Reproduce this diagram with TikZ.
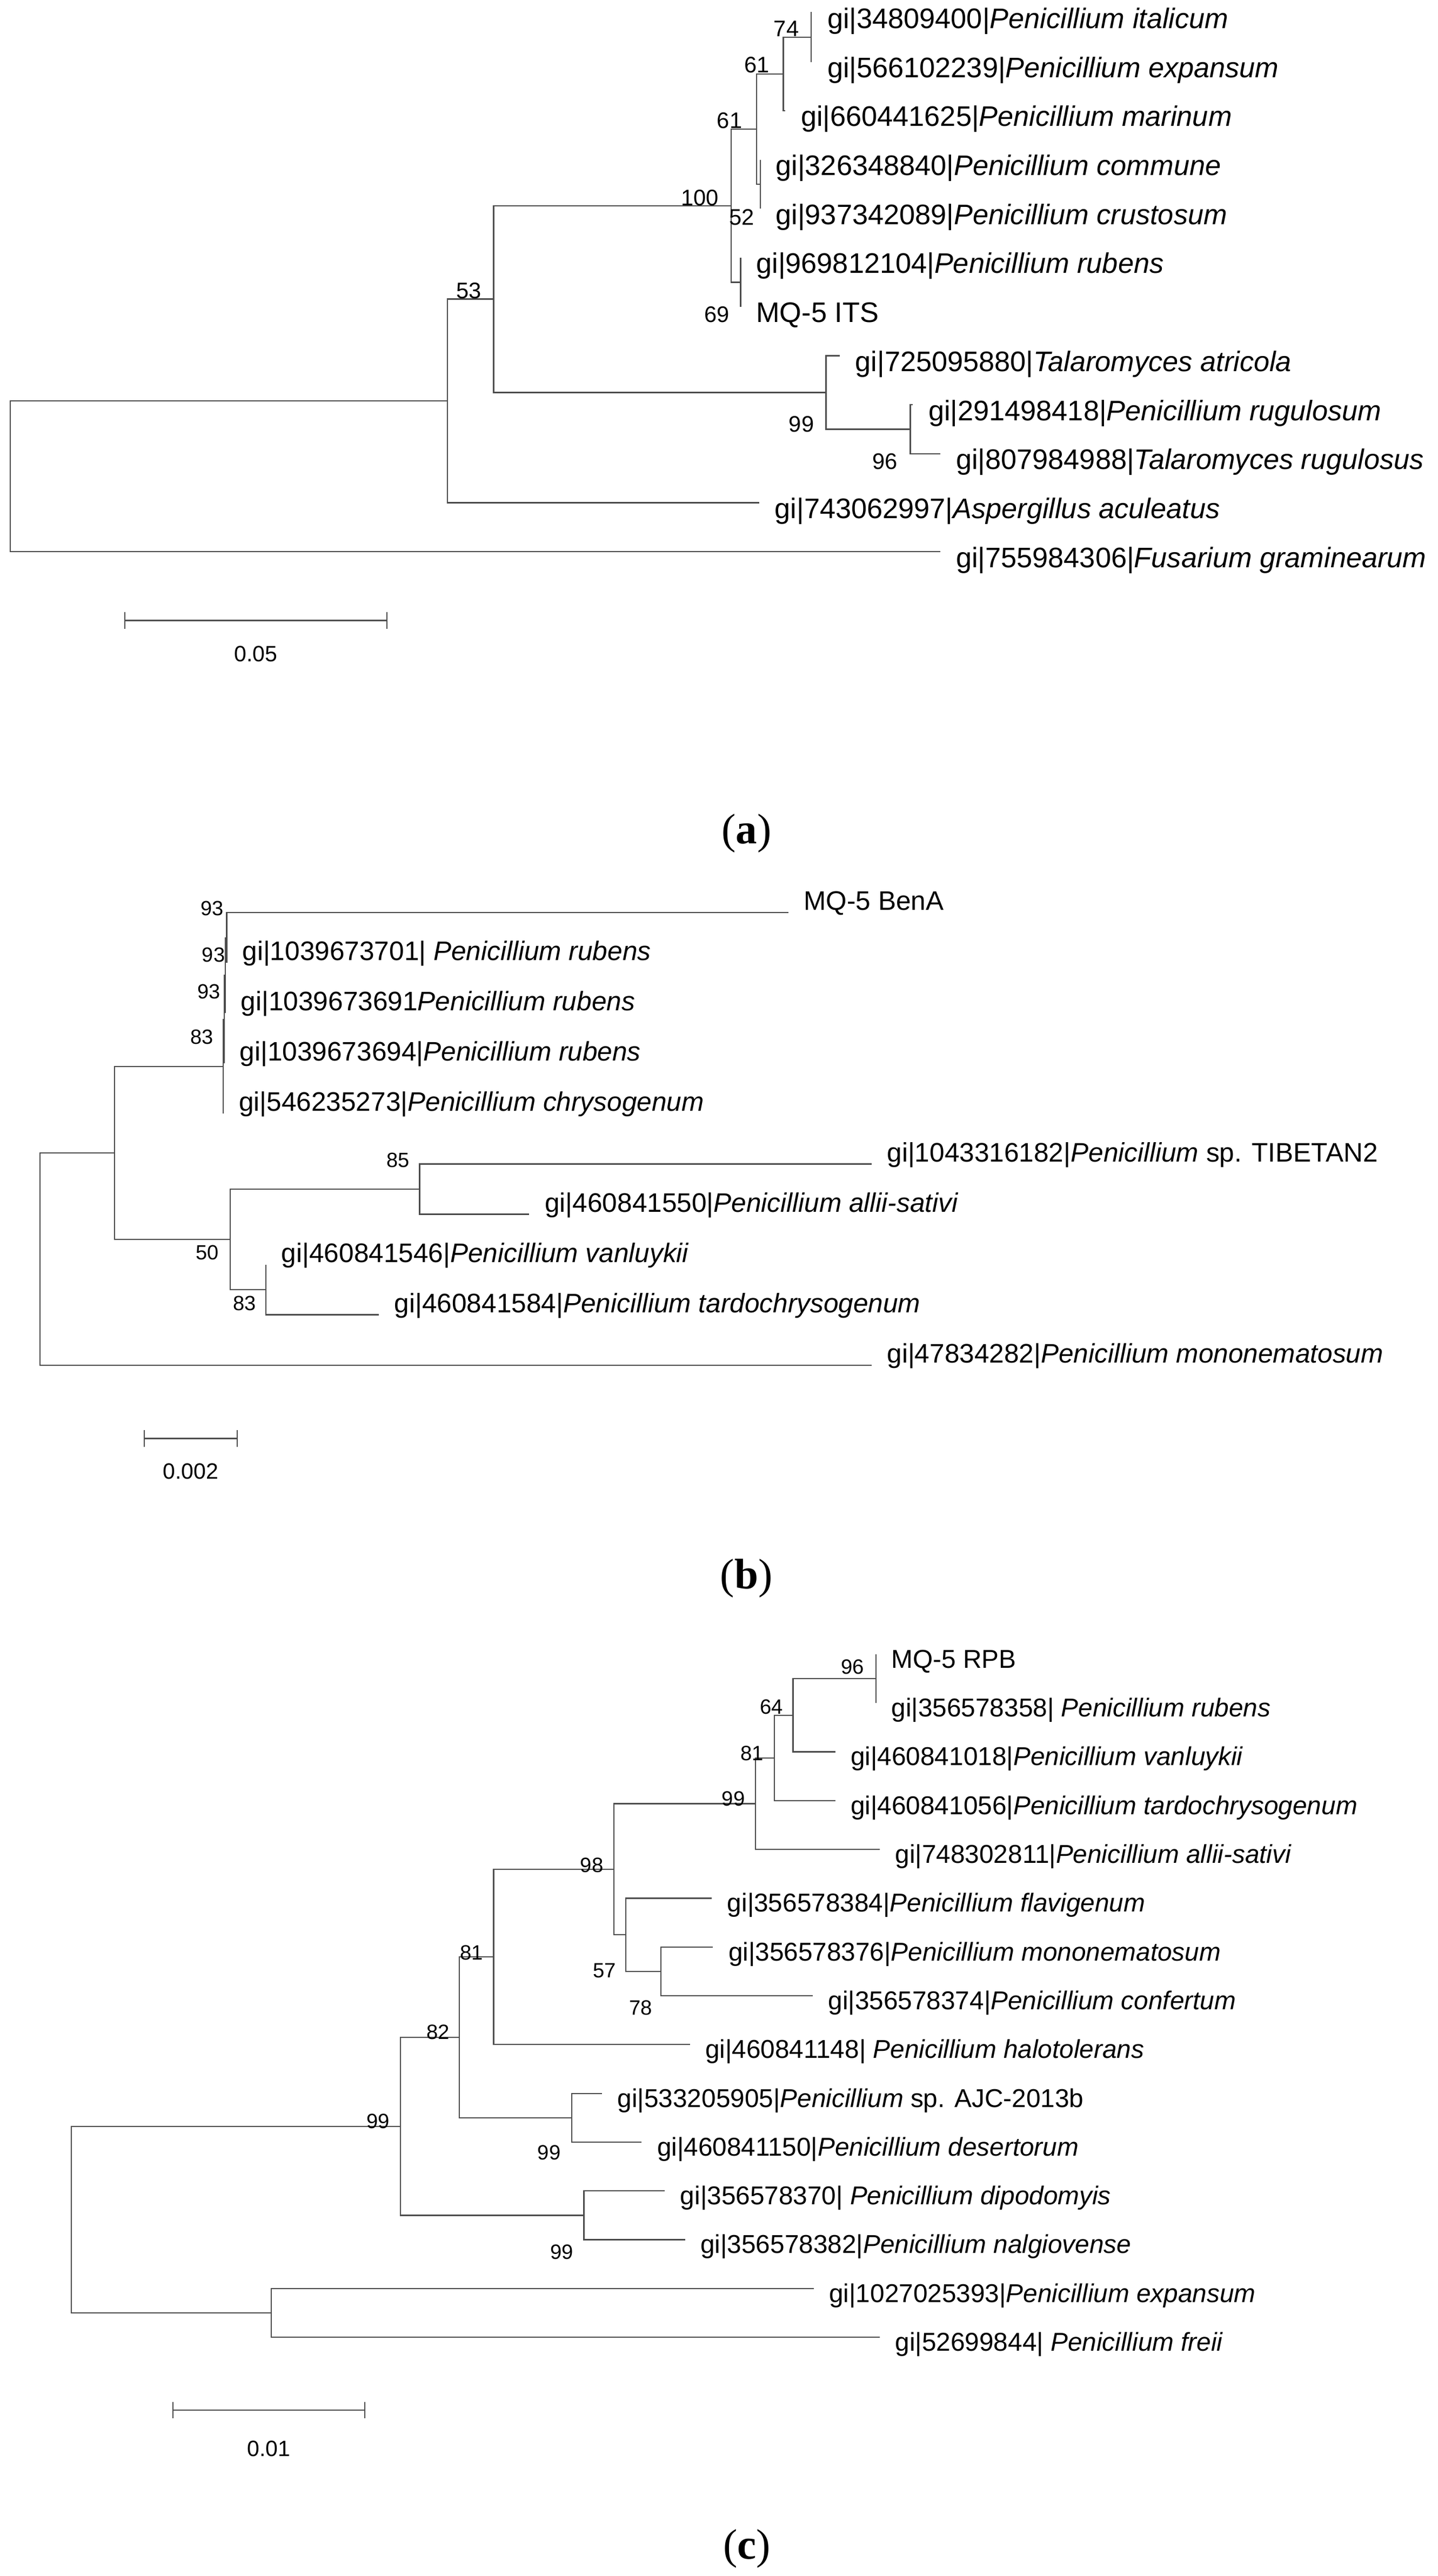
\documentclass[tikz,border=0pt]{standalone}
\usepackage{fontspec}
\setmainfont{Liberation Sans}
\newfontfamily\capserif{Liberation Serif}
\usetikzlibrary{arrows.meta}
\tikzset{
        branch/.style={draw=black!70, line width=0.75pt},
        leaf/.style={anchor=west, inner sep=0pt, xshift=9.3pt, text height=0.72em, text depth=0.21em},
        boot/.style={inner sep=0pt},
        scalebar/.style={draw=black!70, line width=0.75pt, {Bar[width=10pt]}-{Bar[width=10pt]}},
        scaletext/.style={inner sep=0pt, font=\fontsize{13.5pt}{16pt}\selectfont},
        panel/.style={inner sep=0pt, font=\capserif\fontsize{26pt}{30pt}\selectfont}
          }
\begin{document}
\begin{tikzpicture}[x=1pt, y=-1pt]
        \useasboundingbox (0,0) rectangle (875,1568);

        % (a) ITS
        \begin{scope}[leaf/.append style={yshift=-7pt, font=\fontsize{17.2pt}{20pt}\selectfont},
                      boot/.append style={font=\fontsize{13.7pt}{16pt}\selectfont}]
          \foreach \i/\x/\t in {0/494/{gi|34809400|\textit{Penicillium italicum}},
                                1/494/{gi|566102239|\textit{Penicillium expansum}},
                                2/477.9/{gi|660441625|\textit{Penicillium marinum}},
                                3/462.6/{gi|326348840|\textit{Penicillium commune}},
                                4/462.6/{gi|937342089|\textit{Penicillium crustosum}},
                                5/450.7/{gi|969812104|\textit{Penicillium rubens}},
                                6/450.7/{MQ-5 ITS},
                                7/511/{gi|725095880|\textit{Talaromyces atricola}},
                                8/555.5/{gi|291498418|\textit{Penicillium rugulosum}},
                                9/572.3/{gi|807984988|\textit{Talaromyces rugulosus}},
                                10/462/{gi|743062997|\textit{Aspergillus aculeatus}},
                                11/572.3/{gi|755984306|\textit{Fusarium graminearum}}}{
            \coordinate (a\i) at (\x,7.7+29.83*\i);
            \node[leaf] (ta\i) at (a\i) {\t};
          }
          \coordinate (ra) at (6.2,289.9);
          \coordinate (na0) at (272.2,244.0);
          \coordinate (na53) at (300.4,182.0);
          \coordinate (na100) at (445,125.2);
          \coordinate (na61l) at (460.5,78.55);
          \coordinate (na61u) at (476.7,45.0);
          \coordinate (na74) at (493.6,22.6);
          \coordinate (na52) at (462.6,112.1);
          \coordinate (na69) at (450.7,171.8);
          \coordinate (na99) at (502.7,238.9);
          \coordinate (na96) at (554,261.25);
          \draw[branch] (ra) |- (na0) (ra) |- (a11)
            (na0) |- (na53) (na0) |- (a10)
            (na53) |- (na100) (na53) |- (na99)
            (na100) |- (na61l) (na100) |- (na69)
            (na61l) |- (na61u) (na61l) |- (na52)
            (na61u) |- (na74) (na61u) |- (a2)
            (na74) |- (a0) (na74) |- (a1)
            (na52) |- (a3) (na52) |- (a4)
            (na69) |- (a5) (na69) |- (a6)
            (na99) |- (a7) (na99) |- (na96)
            (na96) |- (a8) (na96) |- (a9);
          \node[boot] (ba74) at (478.5,17.6) {74};
          \node[boot] (ba61u) at (460.5,39.6) {61};
          \node[boot] (ba61l) at (444,73.4) {61};
          \node[boot] (ba100) at (426,120.4) {100};
          \node[boot] (ba52) at (451.3,132.2) {52};
          \node[boot] (ba69) at (436.2,191.6) {69};
          \node[boot] (ba53) at (285.3,177) {53};
          \node[boot] (ba99) at (487.7,258.2) {99};
          \node[boot] (ba96) at (538.5,281) {96};
          \coordinate (sa1) at (75.7,377.7);
          \coordinate (sa2) at (235.8,377.7);
          \draw[scalebar] (sa1) -- (sa2);
          \node[scaletext] (sla) at (155.6,398) {0.05};
          \node[panel] (capa) at (454.4,507.1) {(\textbf{a})};
        \end{scope}

        % (b) BenA
        \begin{scope}[leaf/.append style={yshift=4pt, font=\fontsize{16.3pt}{19pt}\selectfont},
                      boot/.append style={font=\fontsize{12.5pt}{15pt}\selectfont}]
          \foreach \i/\x/\t in {0/479.7/{MQ-5 BenA},
                                1/138.0/{gi|1039673701| \textit{Penicillium rubens}},
                                2/137.1/{gi|1039673691\textit{Penicillium rubens}},
                                3/136.4/{gi|1039673694|\textit{Penicillium rubens}},
                                4/135.9/{gi|546235273|\textit{Penicillium chrysogenum}},
                                5/530.3/{gi|1043316182|\textit{Penicillium} sp. TIBETAN2},
                                6/322.1/{gi|460841550|\textit{Penicillium allii-sativi}},
                                7/161.8/{gi|460841546|\textit{Penicillium vanluykii}},
                                8/230.5/{gi|460841584|\textit{Penicillium tardochrysogenum}},
                                9/530.3/{gi|47834282|\textit{Penicillium mononematosum}}}{
            \coordinate (b\i) at (\x,555.5+30.6*\i);
            \node[leaf] (tb\i) at (b\i) {\t};
          }
          \coordinate (rb) at (24.4,766.35);
          \coordinate (nb0) at (69.6,701.8);
          \coordinate (nb83) at (135.9,649.2);
          \coordinate (nb93c) at (136.4,620.5);
          \coordinate (nb93b) at (137.1,593.75);
          \coordinate (nb93a) at (138.0,570.8);
          \coordinate (nb50) at (140,754.4);
          \coordinate (nb85) at (255.4,723.8);
          \coordinate (nb83b) at (161.8,785);
          \draw[branch] (rb) |- (nb0) (rb) |- (b9)
            (nb0) |- (nb83) (nb0) |- (nb50)
            (nb83) |- (nb93c) (nb83) |- (b4)
            (nb93c) |- (nb93b) (nb93c) |- (b3)
            (nb93b) |- (nb93a) (nb93b) |- (b2)
            (nb93a) |- (b0) (nb93a) |- (b1)
            (nb50) |- (nb85) (nb50) |- (nb83b)
            (nb85) |- (b5) (nb85) |- (b6)
            (nb83b) |- (b7) (nb83b) |- (b8);
          \node[boot] (bb93a) at (129.2,553.1) {93};
          \node[boot] (bb93b) at (129.9,581.2) {93};
          \node[boot] (bb93c) at (127.2,603.7) {93};
          \node[boot] (bb83) at (122.8,631.1) {83};
          \node[boot] (bb85) at (242.2,706.3) {85};
          \node[boot] (bb50) at (126.2,762.5) {50};
          \node[boot] (bb83b) at (148.8,793.4) {83};
          \coordinate (sb1) at (87.5,875.6);
          \coordinate (sb2) at (144.7,875.6);
          \draw[scalebar] (sb1) -- (sb2);
          \node[scaletext] (slb) at (116.1,895.6) {0.002};
          \node[panel] (capb) at (454.2,960.6) {(\textbf{b})};
        \end{scope}

        % (c) RPB
        \begin{scope}[leaf/.append style={yshift=-5.8pt, xshift=-0.1pt, font=\fontsize{15.7pt}{18pt}\selectfont},
                      boot/.append style={font=\fontsize{12.6pt}{15pt}\selectfont}]
          \foreach \i/\x/\t in {0/533.1/{MQ-5 RPB},
                                1/533.1/{gi|356578358| \textit{Penicillium rubens}},
                                2/508.3/{gi|460841018|\textit{Penicillium vanluykii}},
                                3/508.3/{gi|460841056|\textit{Penicillium tardochrysogenum}},
                                4/535.4/{gi|748302811|\textit{Penicillium allii-sativi}},
                                5/433.2/{gi|356578384|\textit{Penicillium flavigenum}},
                                6/433.9/{gi|356578376|\textit{Penicillium mononematosum}},
                                7/494.6/{gi|356578374|\textit{Penicillium confertum}},
                                8/419.8/{gi|460841148| \textit{Penicillium halotolerans}},
                                9/366.4/{gi|533205905|\textit{Penicillium} sp. AJC-2013b},
                                10/390.5/{gi|460841150|\textit{Penicillium desertorum}},
                                11/404.6/{gi|356578370| \textit{Penicillium dipodomyis}},
                                12/416.9/{gi|356578382|\textit{Penicillium nalgiovense}},
                                13/495.2/{gi|1027025393|\textit{Penicillium expansum}},
                                14/535.4/{gi|52699844| \textit{Penicillium freii}}}{
            \coordinate (c\i) at (\x,1006.9+29.7*\i);
            \node[leaf] (tc\i) at (c\i) {\t};
          }
          \coordinate (rc) at (43.5,1351.1);
          \coordinate (nc0) at (165,1407.85);
          \coordinate (nc99b) at (243.7,1294.3);
          \coordinate (nc82) at (279.5,1240.1);
          \coordinate (nc81l) at (300.4,1191.15);
          \coordinate (nc98) at (373.5,1137.8);
          \coordinate (nc99u) at (459.8,1097.85);
          \coordinate (nc81u) at (471.2,1070.0);
          \coordinate (nc64) at (482.6,1044.0);
          \coordinate (nc96) at (533.1,1021.75);
          \coordinate (nc57) at (380.8,1177.7);
          \coordinate (nc78) at (402.2,1199.95);
          \coordinate (nc99c) at (347.9,1289.05);
          \coordinate (nc99d) at (355.3,1348.45);
          \draw[branch] (rc) |- (nc99b) (rc) |- (nc0)
            (nc0) |- (c13) (nc0) |- (c14)
            (nc99b) |- (nc82) (nc99b) |- (nc99d)
            (nc82) |- (nc81l) (nc82) |- (nc99c)
            (nc81l) |- (nc98) (nc81l) |- (c8)
            (nc98) |- (nc99u) (nc98) |- (nc57)
            (nc99u) |- (nc81u) (nc99u) |- (c4)
            (nc81u) |- (nc64) (nc81u) |- (c3)
            (nc64) |- (nc96) (nc64) |- (c2)
            (nc96) |- (c0) (nc96) |- (c1)
            (nc57) |- (c5) (nc57) |- (nc78)
            (nc78) |- (c6) (nc78) |- (c7)
            (nc99c) |- (c9) (nc99c) |- (c10)
            (nc99d) |- (c11) (nc99d) |- (c12);
          \node[boot] (bc96) at (518.8,1014.5) {96};
          \node[boot] (bc64) at (469.4,1039) {64};
          \node[boot] (bc81u) at (457.7,1067.3) {81};
          \node[boot] (bc99u) at (446.3,1094.7) {99};
          \node[boot] (bc98) at (360.1,1135.3) {98};
          \node[boot] (bc57) at (367.8,1199.4) {57};
          \node[boot] (bc78) at (389.8,1222) {78};
          \node[boot] (bc81l) at (287,1188.7) {81};
          \node[boot] (bc82) at (266.5,1237) {82};
          \node[boot] (bc99b) at (230.1,1291.3) {99};
          \node[boot] (bc99c) at (334.2,1310.3) {99};
          \node[boot] (bc99d) at (342,1370.8) {99};
          \coordinate (sc1) at (104.8,1467.1);
          \coordinate (sc2) at (222.3,1467.1);
          \draw[scalebar] (sc1) -- (sc2);
          \node[scaletext] (slc) at (163.6,1490.4) {0.01};
          \node[panel] (capc) at (454.6,1551.5) {(\textbf{c})};
        \end{scope}
      \end{tikzpicture}
\end{document}
